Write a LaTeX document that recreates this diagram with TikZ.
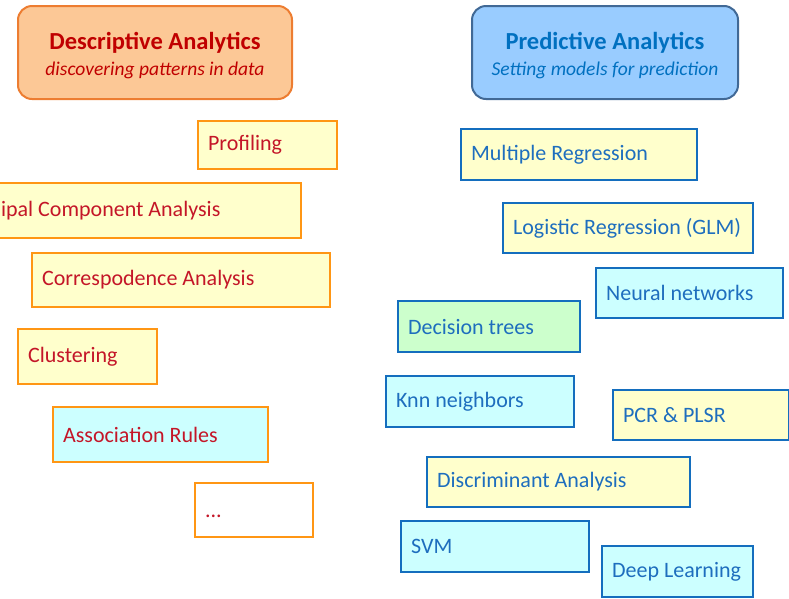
\documentclass[tikz,border=0pt]{standalone}
\usepackage{fontspec}
\setmainfont{Carlito}
\definecolor{dred}{RGB}{192,0,0}
\definecolor{ired}{RGB}{196,22,40}
\definecolor{dblue}{RGB}{0,112,192}
\definecolor{iblue}{RGB}{30,110,190}
\definecolor{oborder}{RGB}{255,150,20}
\definecolor{bborder}{RGB}{20,110,190}
\definecolor{hofill}{RGB}{252,200,150}
\definecolor{hoborder}{RGB}{237,125,49}
\definecolor{hbfill}{RGB}{153,204,255}
\definecolor{hbborder}{RGB}{65,105,150}
\definecolor{yfill}{RGB}{255,255,204}
\definecolor{cfill}{RGB}{204,255,255}
\definecolor{gfill}{RGB}{204,255,204}
\tikzset{
  item/.style={rectangle, line width=2.2pt, anchor=north west, inner xsep=10pt, inner ysep=0pt,
    font=\fontsize{22}{26}\selectfont},
  ditem/.style={item, draw=oborder, text=ired},
  pitem/.style={item, draw=bborder, text=iblue},
  header/.style={rectangle, rounded corners=14pt, line width=2pt, anchor=north west, inner sep=0pt},
  htext/.style={align=center, inner sep=0pt},
}
\newcommand{\lbox}[2]{\makebox[#1pt][l]{#2}}
\begin{document}
\begin{tikzpicture}[x=1pt,y=-1pt]
\useasboundingbox (0,0) rectangle (789,598);
\clip (0,0) rectangle (789,598);
% headers
\node[header, draw=hoborder, fill=hofill, minimum width=274pt, minimum height=93pt] (desc) at (17,5) {};
\node[htext, text=dred] (descT) at ([yshift=-3pt]desc.center)
  {{\fontsize{24.5}{28}\selectfont\bfseries Descriptive Analytics}\\[8pt]
   {\fontsize{19.5}{22}\selectfont\itshape discovering patterns in data}};
\node[header, draw=hbborder, fill=hbfill, minimum width=266pt, minimum height=93pt] (pred) at (471,5) {};
\node[htext, text=dblue] (predT) at ([yshift=-3pt]pred.center)
  {{\fontsize{24.5}{28}\selectfont\bfseries Predictive Analytics}\\[8pt]
   {\fontsize{19.5}{22}\selectfont\itshape Setting models for prediction}};
% descriptive items
\node[ditem, fill=yfill, minimum height=48pt] (prof) at (197,120) {\lbox{119}{Profiling}};
\node[ditem, fill=yfill, minimum height=55pt] (pca) at (-47,182) {\lbox{327}{\hspace*{37pt}ipal Component Analysis}};
\node[ditem, fill=yfill, minimum height=54pt] (corr) at (31,252) {\lbox{278}{Correspodence Analysis}};
\node[ditem, fill=yfill, minimum height=55pt] (clus) at (17,328) {\lbox{119}{Clustering}};
\node[ditem, fill=cfill, minimum height=55pt] (assoc) at (52,406) {\lbox{195}{Association Rules}};
\node[ditem, fill=white, minimum height=54pt] (dots) at (194,482) {\lbox{98}{\rule{0pt}{15pt}...}};
% predictive items
\node[pitem, fill=yfill, minimum height=51pt] (mreg) at (460,128) {\lbox{216}{Multiple Regression}};
\node[pitem, fill=yfill, minimum height=50pt] (logit) at (502,202) {\lbox{230}{Logistic Regression (GLM)}};
\node[pitem, fill=cfill, minimum height=50pt] (nn) at (595,267) {\lbox{167}{Neural networks}};
\node[pitem, fill=gfill, minimum height=51pt] (dt) at (397,300) {\lbox{162}{Decision trees}};
\node[pitem, fill=cfill, minimum height=51pt] (knn) at (385,375) {\lbox{168}{Knn neighbors}};
\node[pitem, fill=yfill, minimum height=50pt] (pcr) at (612,389) {\lbox{156}{PCR \& PLSR}};
\node[pitem, fill=yfill, minimum height=50pt] (da) at (426,456) {\lbox{243}{Discriminant Analysis}};
\node[pitem, fill=cfill, minimum height=51pt] (svm) at (400,520) {\lbox{168}{SVM}};
\node[pitem, fill=cfill, minimum height=51pt] (dl) at (601,545) {\lbox{131}{Deep Learning}};
\end{tikzpicture}
\end{document}
